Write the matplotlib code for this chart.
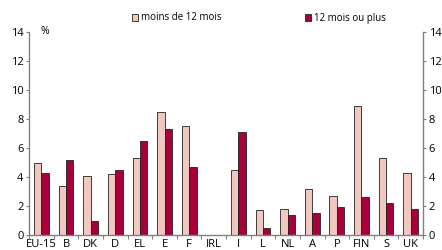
import numpy as np
import matplotlib.pyplot as plt
from matplotlib.patches import Patch

countries = ['EU-15', 'B', 'DK', 'D', 'EL', 'E', 'F', 'IRL', 'I', 'L',
             'NL', 'A', 'P', 'FIN', 'S', 'UK']
moins_12 = [5.0, 3.4, 4.1, 4.2, 5.3, 8.5, 7.5, np.nan, 4.5, 1.7,
            1.8, 3.2, 2.7, 8.9, 5.3, 4.3]
plus_12 = [4.3, 5.2, 1.0, 4.5, 6.5, 7.3, 4.7, np.nan, 7.1, 0.5,
           1.4, 1.5, 1.9, 2.6, 2.2, 1.8]
labels = ['moins de 12 mois', '12 mois ou plus']

pink = '#f0c8c0'
red = '#a8003a'
grey = '#808080'

plt.rcParams['font.family'] = ['Open Sans', 'DejaVu Sans']

fig = plt.figure(figsize=(4.42, 2.5), dpi=100)
ax = fig.add_axes([0.066, 0.06, 0.891, 0.812])

x = np.arange(len(countries))
w = 0.3
ax.bar(x - w / 2, moins_12, w, color=pink, edgecolor='#222222', linewidth=0.6)
ax.bar(x + w / 2, plus_12, w, color=red, edgecolor='#222222', linewidth=0.6)

ax.set_xlim(-0.5, len(countries) - 0.5)
ax.set_ylim(0, 14)
ax.set_yticks(range(0, 15, 2))

ax.set_xticks(x)
ax.set_xticklabels(countries)
ax.set_xticks(np.arange(-0.5, len(countries), 1), minor=True)
ax.tick_params(axis='x', which='major', length=0, pad=3, labelsize=8)
ax.tick_params(axis='x', which='minor', length=3, color=grey, width=0.8)
ax.tick_params(axis='y', length=2, color=grey, width=0.8, labelsize=8,
               pad=2, right=True, labelright=True)

for s in ['left', 'right', 'bottom']:
    ax.spines[s].set_color(grey)
    ax.spines[s].set_linewidth(1.0)
ax.spines['top'].set_visible(False)

ax.text(0.03, 14, '%', fontsize=7.5, va='center', ha='left',
        transform=ax.get_yaxis_transform())

handles = [Patch(facecolor=pink, edgecolor='#222222', linewidth=0.6),
           Patch(facecolor=red, edgecolor='#222222', linewidth=0.6)]
fig.legend(handles, labels, loc='center', bbox_to_anchor=(0.586, 0.928),
           ncol=2, frameon=False, fontsize=7, handlelength=0.7,
           handleheight=0.7, handletextpad=0.3, columnspacing=8.5)

fig.savefig('out.png', dpi=100)
